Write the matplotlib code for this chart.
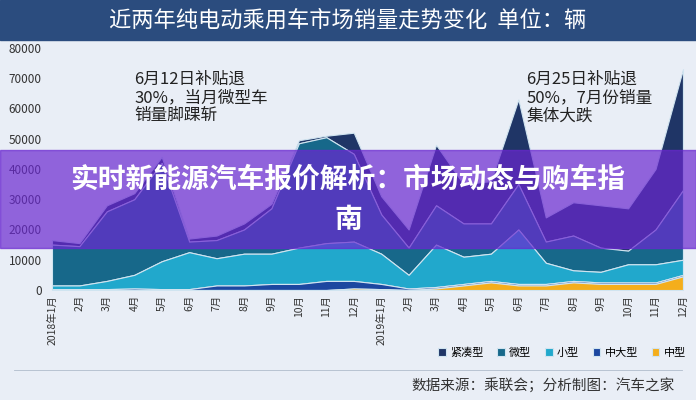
import numpy as np
import matplotlib
matplotlib.use("Agg")
import matplotlib.pyplot as plt
from matplotlib.patches import Rectangle

plt.rcParams["font.family"] = ["Noto Sans CJK SC", "DejaVu Sans"]

months = ["2018年1月"] + [f"{m}月" for m in range(2, 13)] + ["2019年1月"] + [f"{m}月" for m in range(2, 13)]

# cumulative tops of each stacked layer
top_mid = [0, 0, 0, 0, 0, 0, 0, 0, 0, 0, 0, 500,
           300, 0, 500, 1500, 2500, 1500, 1500, 2500, 2000, 2000, 2000, 4500]
top_large = [300, 300, 300, 500, 300, 300, 1500, 1500, 2000, 2000, 3000, 3000,
             2000, 500, 1000, 2000, 3000, 2000, 2000, 3000, 2500, 2500, 2500, 5000]
top_small = [1500, 1500, 3000, 5000, 9500, 12500, 10500, 12000, 12000, 14000, 15500, 16000,
             12000, 5000, 15000, 11000, 12000, 20000, 9000, 6500, 6000, 8500, 8500, 10000]
top_mini = [15000, 14500, 26000, 30000, 42000, 16000, 16500, 20000, 27000, 48500, 50500, 45000,
            25000, 14000, 28000, 22000, 22000, 35000, 16000, 18000, 14000, 13000, 20000, 33000]
top_compact = [16500, 15500, 28000, 32000, 44000, 17000, 18000, 22000, 28500, 49500, 51000, 52000,
               31000, 20000, 48000, 35000, 36000, 63000, 24000, 29000, 28000, 27000, 40000, 73000]

names = ["紧凑型", "微型", "小型", "中大型", "中型"]
colors = ["#1f3566", "#17688a", "#21a8cc", "#1c47a0", "#f4ae1c"]

x = np.arange(len(months))
fig = plt.figure(figsize=(6.96, 4.0), dpi=100)
fig.patch.set_facecolor("#e9eef6")

# title bar
fig.add_artist(Rectangle((0, 0.9), 1, 0.1, transform=fig.transFigure, color="#2b4c7e"))
fig.text(0.5, 0.95, "近两年纯电动乘用车市场销量走势变化  单位：辆", color="white",
         fontsize=16, ha="center", va="center")

ax = fig.add_axes([46.5 / 696, 0.275, (685.7 - 46.5) / 696, 0.605])
ax.set_facecolor("#e9eef6")
layers = [top_compact, top_mini, top_small, top_large, top_mid]
bases = [top_mini, top_small, top_large, top_mid, [0] * len(x)]
for top, base, c, n in zip(layers, bases, colors, names):
    ax.fill_between(x, base, top, color=c, lw=0.8, edgecolor="#d0e4f0", label=n)
ax.set_xlim(-0.2, 23.1)
ax.set_ylim(0, 80000)
ax.set_yticks(range(0, 80001, 10000))
ax.tick_params(axis="y", labelsize=8.5, length=0, colors="#333333")
ax.set_xticks(x)
ax.set_xticklabels(months, rotation=90, fontsize=7.5, color="#333333")
ax.tick_params(axis="x", length=0)
for s in ax.spines.values():
    s.set_visible(False)

ax.text(3.0, 72500, "6月12日补贴退\n30%，当月微型车\n销量脚踝斩", fontsize=12, va="top", color="#222222", linespacing=1.1)
ax.text(17.3, 72500, "6月25日补贴退\n50%，7月份销量\n集体大跌", fontsize=12, va="top", color="#222222", linespacing=1.1)

# legend
h, l = ax.get_legend_handles_labels()
fig.legend(h, l, loc="center right", bbox_to_anchor=(1.0, 0.118), ncol=5, frameon=False,
           fontsize=8, handlelength=0.7, handleheight=0.7, columnspacing=1.2, handletextpad=0.4)

fig.add_artist(plt.Line2D([0.02, 0.98], [0.075, 0.075], transform=fig.transFigure, color="#b0bccc", lw=0.6))
fig.text(0.97, 0.035, "数据来源：乘联会；分析制图：汽车之家", fontsize=10.5, ha="right", va="center", color="#333333")

# purple banner overlay
fig.add_artist(Rectangle((0, 0.38), 1, 0.245, transform=fig.transFigure, color="#6a28d0", alpha=0.7))
fig.text(0.5, 0.55, "实时新能源汽车报价解析：市场动态与购车指", fontsize=20, weight="bold",
         color="white", ha="center", va="center")
fig.text(0.5, 0.45, "南", fontsize=20, weight="bold", color="white", ha="center", va="center")

fig.savefig("out.png", dpi=100, facecolor=fig.get_facecolor())
